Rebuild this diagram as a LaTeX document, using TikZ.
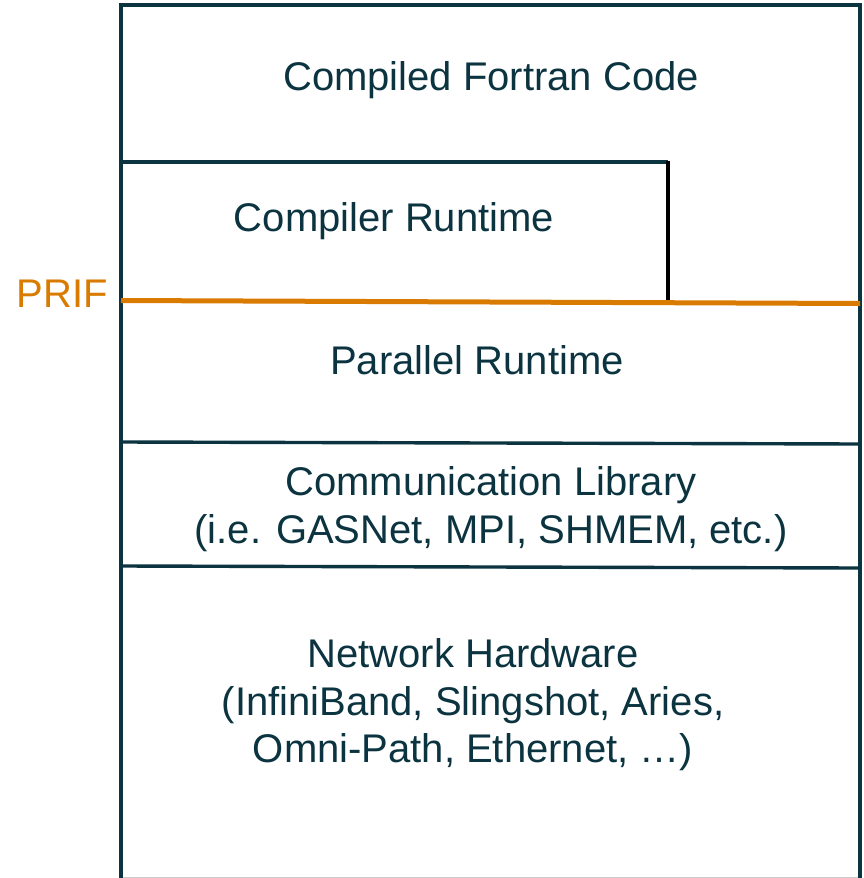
\documentclass[tikz,border=0pt]{standalone}
\usepackage{fontspec}
\setmainfont{Liberation Sans}
\definecolor{ink}{HTML}{0B3440}
\definecolor{prif}{HTML}{D97B00}
\begin{document}
\begin{tikzpicture}[x=1pt,y=-1pt,
  layer/.style={draw=ink,line width=3.4pt},
  lbl/.style={text=ink,font=\fontsize{40}{47.5}\selectfont,align=center,inner sep=0pt},
  prifline/.style={draw=prif,line width=5pt}]
\useasboundingbox (0,0) rectangle (864,878);
\fill[white] (0,0) rectangle (864,878);
% outer frame
\draw[gray!40,line width=1pt] (121,877.5) -- (860,877.5);
\draw[layer] (121,878) -- (121,5) -- (860,5) -- (860,878);
% compiler runtime box
\draw[layer] (121,162) -- (668,162);
\draw[black,line width=3.4pt] (668,160.5) -- (668,302);
% layer separators
\draw[layer] (121,442) -- (860,444);
\draw[layer] (121,566) -- (860,568);
% PRIF interface line
\draw[prifline] (121,300.5) -- (860,303.5);
% labels
\node[lbl] (code) at (491,80) {Compiled Fortran Code};
\node[lbl] (crt) at (394,221) {Compiler Runtime};
\node[lbl] (prt) at (477,360) {Parallel Runtime};
\node[lbl] (comm) at (491,509) {Communication Library\\(i.e. GASNet, MPI, SHMEM, etc.)};
\node[lbl] (net) at (473,705) {Network Hardware\\(InfiniBand, Slingshot, Aries,\\Omni-Path, Ethernet, …)};
\node[lbl,text=prif] (prif) at (62,294) {PRIF};
\end{tikzpicture}
\end{document}
